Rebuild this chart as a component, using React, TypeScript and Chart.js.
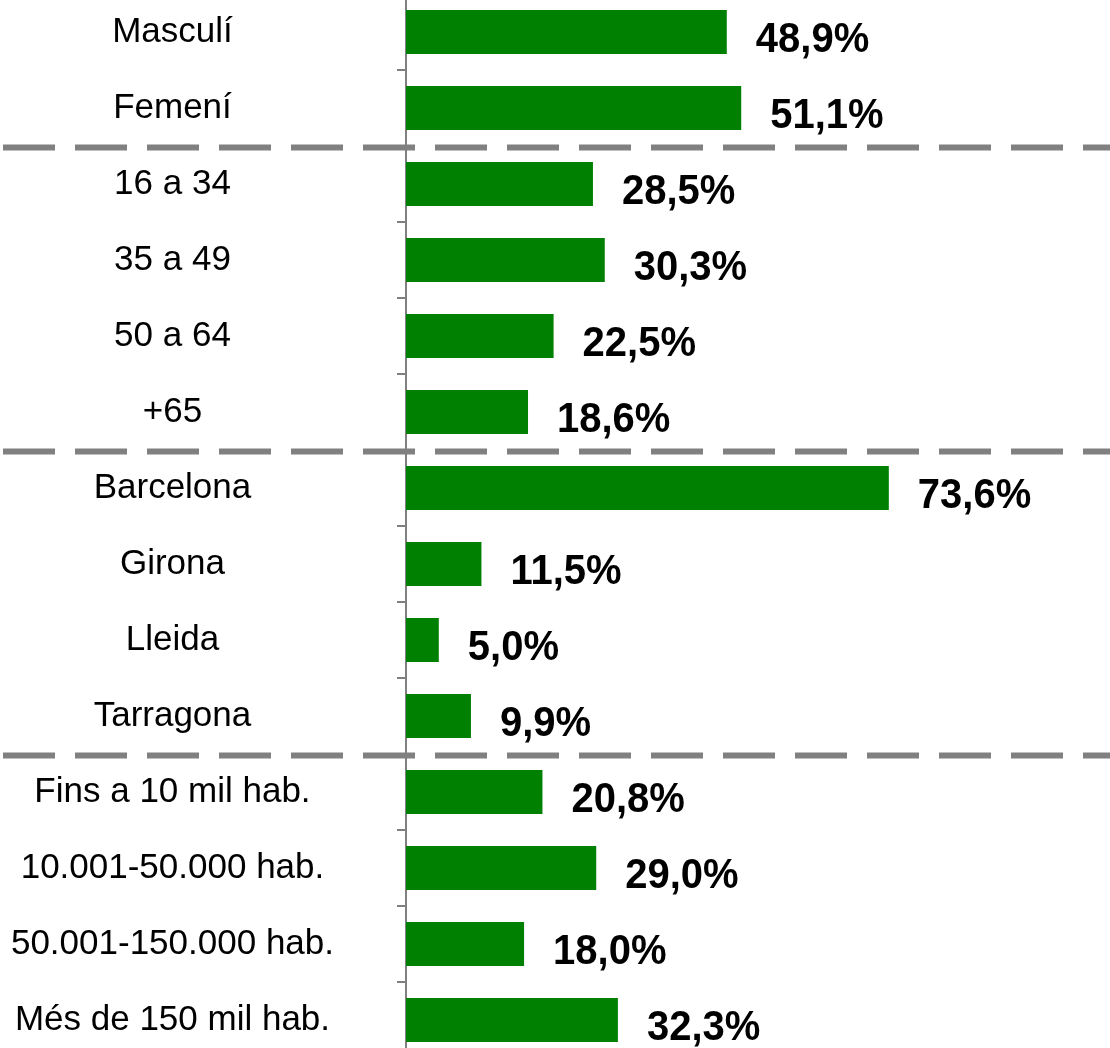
import React, { useEffect, useRef } from "react";
import { Chart, registerables } from "chart.js";

Chart.register(...registerables);

const categories = [
  "Masculí",
  "Femení",
  "16 a 34",
  "35 a 49",
  "50 a 64",
  "+65",
  "Barcelona",
  "Girona",
  "Lleida",
  "Tarragona",
  "Fins a 10 mil hab.",
  "10.001-50.000 hab.",
  "50.001-150.000 hab.",
  "Més de 150 mil hab.",
];

const values = [48.9, 51.1, 28.5, 30.3, 22.5, 18.6, 73.6, 11.5, 5.0, 9.9, 20.8, 29.0, 18.0, 32.3];

// separators placed after these category indices
const groupEnds = [1, 5, 9];

const FONT = "'Liberation Sans', Arial, sans-serif";

const valueLabelPlugin = {
  id: "valueLabels",
  afterDatasetsDraw(chart: any) {
    const ctx = chart.ctx;
    const meta = chart.getDatasetMeta(0);
    const sy = 1.06;
    meta.data.forEach((bar: any, i: number) => {
      const txt = values[i].toFixed(1).replace(".", ",") + "%";
      ctx.save();
      ctx.font = `bold 40px ${FONT}`;
      ctx.fillStyle = "#000000";
      ctx.textAlign = "left";
      ctx.textBaseline = "alphabetic";
      ctx.translate(bar.x + 29, bar.y + 20);
      ctx.scale(1, sy);
      ctx.fillText(txt, 0, 0);
      ctx.restore();
    });
  },
};

const separatorPlugin = {
  id: "separators",
  afterDraw(chart: any) {
    const ctx = chart.ctx;
    const y = chart.scales.y;
    ctx.save();
    ctx.strokeStyle = "#808080";
    ctx.lineWidth = 6;
    ctx.setLineDash([52, 20]);
    ctx.lineDashOffset = -3;
    groupEnds.forEach((idx) => {
      const py = (y.getPixelForValue(idx) + y.getPixelForValue(idx + 1)) / 2 + 1.5;
      ctx.beginPath();
      ctx.moveTo(0, py);
      ctx.lineTo(chart.width, py);
      ctx.stroke();
    });
    ctx.restore();
  },
};

export default function App() {
  const canvasRef = useRef<HTMLCanvasElement | null>(null);

  useEffect(() => {
    if (!canvasRef.current) return;
    const chart = new Chart(canvasRef.current, {
      type: "bar",
      data: {
        labels: categories,
        datasets: [
          {
            data: values,
            backgroundColor: "#008000",
            borderWidth: 0,
            barPercentage: 0.58,
            categoryPercentage: 1,
          },
        ],
      },
      options: {
        indexAxis: "y",
        responsive: false,
        animation: false,
        devicePixelRatio: 1,
        layout: { padding: { top: 0, bottom: 0, left: 0, right: 48 } },
        plugins: {
          legend: { display: false },
          tooltip: { enabled: false },
        },
        scales: {
          x: {
            display: false,
            min: 0,
            max: 100,
          },
          y: {
            position: "left",
            afterFit: (scale: any) => {
              scale.width = 406;
              scale.paddingTop = 0;
              scale.paddingBottom = 0;
            },
            border: { display: true, color: "#808080", width: 2 },
            grid: {
              drawOnChartArea: false,
              drawTicks: true,
              tickLength: 9,
              color: "#808080",
              lineWidth: 2,
            },
            ticks: {
              crossAlign: "center",
              padding: 63,
              color: "#000000",
              font: { family: FONT, size: 35 },
            },
          },
        },
      },
      plugins: [valueLabelPlugin, separatorPlugin],
    } as any);
    return () => chart.destroy();
  }, []);

  return (
    <div
      style={{
        position: "absolute",
        top: 0,
        left: 0,
        width: 1110,
        height: 1048,
        overflow: "hidden",
        background: "#ffffff",
      }}
    >
      <div style={{ position: "absolute", top: -6, left: 0 }}>
        <canvas ref={canvasRef} width={1110} height={1064} style={{ display: "block" }} />
      </div>
    </div>
  );
}
